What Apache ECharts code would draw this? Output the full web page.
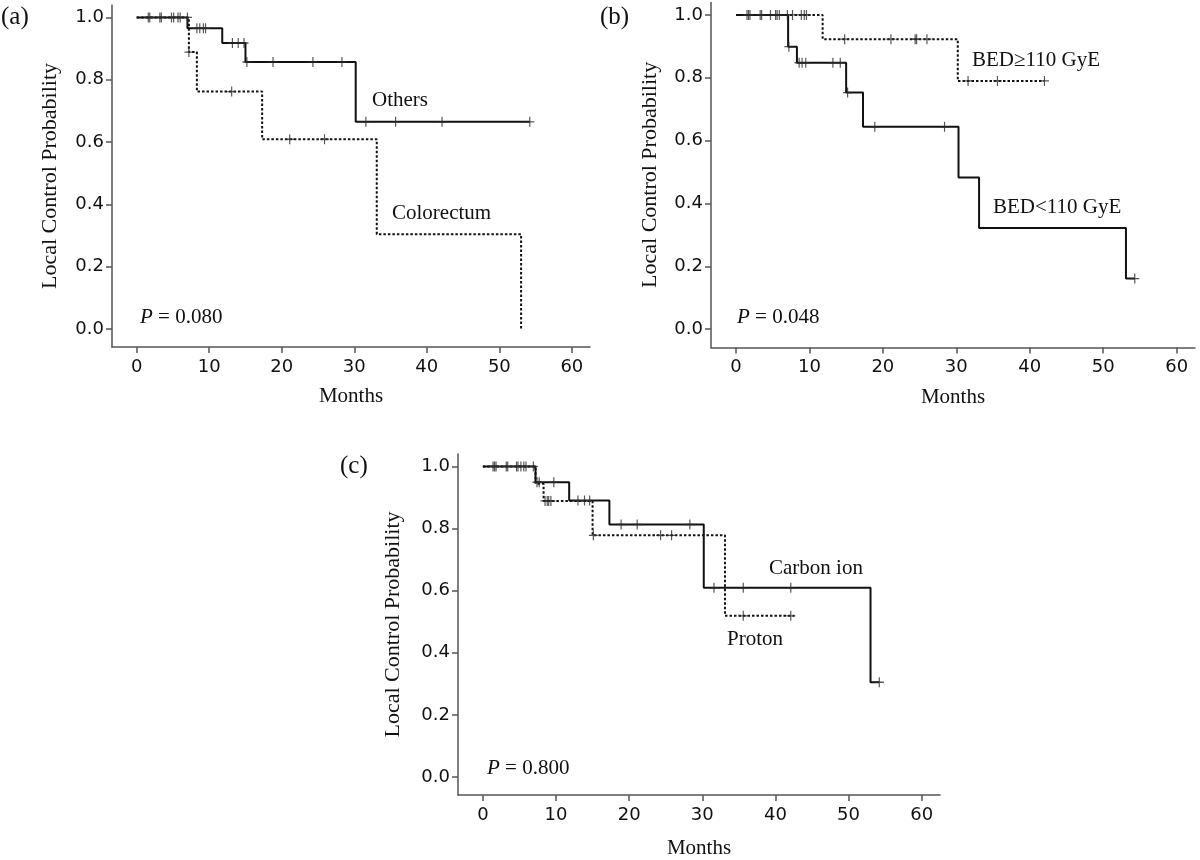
<!DOCTYPE html>
<html>
<head>
<meta charset="utf-8">
<script src="https://cdn.jsdelivr.net/npm/echarts@6/dist/echarts.min.js"></script>
<style>
  html, body { margin: 0; padding: 0; background: #fff; }
  #chart { width: 1200px; height: 860px; }
</style>
</head>
<body>
<div id="chart"></div>
<script>
// ---------- tick labels ----------
const monthTicks = [0, 10, 20, 30, 40, 50, 60];
const probTicks = [0, 0.2, 0.4, 0.6, 0.8, 1.0];

// ---------- Panel (a) ----------
const othersTime = [0, 7.0, 11.8, 15.0, 30.2, 54.2];
const othersSurv = [1.0, 0.965, 0.918, 0.857, 0.665, 0.665];
const othersCensorTime = [1.6, 1.8, 3.2, 3.4, 4.8, 5.1, 5.7, 6.0, 7.0, 8.3, 8.7, 9.2, 9.5, 13.2, 14.0, 14.8, 15.2, 18.8, 24.3, 28.3, 31.6, 35.7, 42.1, 54.2];
const othersCensorSurv = [1, 1, 1, 1, 1, 1, 1, 1, 1, 0.965, 0.965, 0.965, 0.965, 0.918, 0.918, 0.918, 0.857, 0.857, 0.857, 0.857, 0.665, 0.665, 0.665, 0.665];
const coloTime = [0, 7.2, 8.3, 17.3, 33.1, 53.0];
const coloSurv = [1.0, 0.889, 0.762, 0.609, 0.304, 0.0];
const coloCensorTime = [7.2, 13.1, 21.1, 25.9];
const coloCensorSurv = [0.889, 0.762, 0.609, 0.609];

// ---------- Panel (b) ----------
const bedHighTime = [0, 11.8, 30.2, 42.0];
const bedHighSurv = [1.0, 0.923, 0.790, 0.790];
const bedHighCensorTime = [3.3, 5.4, 7.7, 8.9, 9.3, 9.6, 14.8, 21.1, 24.4, 24.6, 26.0, 31.6, 35.6, 42.0];
const bedHighCensorSurv = [1, 1, 1, 1, 1, 1, 0.923, 0.923, 0.923, 0.923, 0.923, 0.790, 0.790, 0.790];
const bedLowTime = [0, 7.1, 8.3, 15.0, 17.3, 30.3, 33.1, 53.1, 54.3];
const bedLowSurv = [1.0, 0.899, 0.848, 0.753, 0.644, 0.483, 0.322, 0.161, 0.161];
const bedLowCensorTime = [1.5, 1.7, 1.9, 3.5, 4.7, 5.6, 5.9, 7.0, 7.2, 8.6, 9.0, 9.5, 13.2, 14.2, 15.2, 18.9, 28.4, 54.3];
const bedLowCensorSurv = [1, 1, 1, 1, 1, 1, 1, 1, 0.899, 0.848, 0.848, 0.848, 0.848, 0.848, 0.753, 0.644, 0.644, 0.161];

// ---------- Panel (c) ----------
const carbonTime = [0, 7.2, 11.8, 17.3, 30.2, 53.0, 54.2];
const carbonSurv = [1.0, 0.949, 0.890, 0.813, 0.609, 0.305, 0.305];
const carbonCensorTime = [1.4, 1.8, 3.2, 4.6, 5.6, 6.9, 7.4, 7.7, 9.7, 13.0, 13.9, 14.6, 18.9, 21.1, 28.3, 31.6, 35.6, 42.1, 54.2];
const carbonCensorSurv = [1, 1, 1, 1, 1, 1, 0.949, 0.949, 0.949, 0.890, 0.890, 0.890, 0.813, 0.813, 0.813, 0.609, 0.609, 0.609, 0.305];
const protonTime = [0, 7.2, 8.3, 15.0, 33.1, 42.6];
const protonSurv = [1.0, 0.944, 0.889, 0.778, 0.519, 0.519];
const protonCensorTime = [1.6, 3.4, 4.8, 5.2, 5.9, 8.5, 8.8, 9.0, 9.3, 15.1, 24.3, 25.8, 35.6, 42.1];
const protonCensorSurv = [1, 1, 1, 1, 1, 0.889, 0.889, 0.889, 0.889, 0.778, 0.778, 0.778, 0.519, 0.519];

// ---------- build ----------
const SERIF = '"Liberation Serif", "Times New Roman", serif';
const SANS = '"DejaVu Sans", Verdana, sans-serif';
const pairs = (ts, ss) => ts.map((t, i) => [t, ss[i]]);
const plusPath = 'path://M4.35,0H5.65V10H4.35Z M0,4.35H10V5.65H0Z';

function stepLine(idx, ts, ss, dotted) {
  return {
    type: 'line', xAxisIndex: idx, yAxisIndex: idx, step: 'end',
    data: pairs(ts, ss), symbol: 'none', silent: true, z: 3,
    lineStyle: { color: '#111', width: 2, type: dotted ? [2.5, 2] : 'solid', cap: 'butt' }
  };
}
function censors(idx, ts, ss) {
  return {
    type: 'scatter', xAxisIndex: idx, yAxisIndex: idx,
    data: pairs(ts, ss), symbol: plusPath, symbolSize: [9, 10], silent: true, z: 4,
    itemStyle: { color: '#2a2a2a' }
  };
}

const grids = [
  { left: 112, top: 5, width: 478, height: 342 },
  { left: 711, top: 2.4, width: 484, height: 345 },
  { left: 458, top: 454, width: 482, height: 343 }
];
const nameGapsY = [51, 50, 54];
const nameGapsX = [39, 40, 43];

const axisLineStyle = { color: '#555', width: 1.5 };
const xAxes = grids.map((g, i) => ({
  type: 'value', gridIndex: i, min: -3.4, max: 62.5,
  axisLine: { onZero: false, lineStyle: axisLineStyle },
  axisTick: { customValues: monthTicks, length: 6, lineStyle: axisLineStyle },
  axisLabel: { customValues: monthTicks, margin: 11, fontFamily: SANS, fontSize: 18, color: '#111' },
  splitLine: { show: false },
  name: 'Months', nameLocation: 'middle', nameGap: nameGapsX[i],
  nameTextStyle: { fontFamily: SERIF, fontSize: 21, color: '#111' }
}));
const yAxes = grids.map((g, i) => ({
  type: 'value', gridIndex: i, min: -0.058, max: 1.04,
  axisLine: { onZero: false, lineStyle: axisLineStyle },
  axisTick: { customValues: probTicks, length: 6, lineStyle: axisLineStyle },
  axisLabel: { customValues: probTicks, margin: 8, fontFamily: SANS, fontSize: 18, color: '#111',
               formatter: v => v.toFixed(1) },
  splitLine: { show: false },
  name: 'Local Control Probability', nameLocation: 'middle', nameRotate: 90, nameGap: nameGapsY[i],
  nameTextStyle: { fontFamily: SERIF, fontSize: 22, color: '#111' }
}));

function txt(text, x, y, size) {
  return {
    type: 'text', x: x, y: y, silent: true,
    style: { text: text, font: size + 'px ' + SERIF, fill: '#111', align: 'left', verticalAlign: 'middle' }
  };
}
function ptxt(text, x, y) {
  return {
    type: 'text', x: x, y: y, silent: true,
    style: {
      text: '{i|P} = ' + text, font: '21px ' + SERIF, fill: '#111', align: 'left', verticalAlign: 'middle',
      rich: { i: { fontStyle: 'italic', fontFamily: SERIF, fontSize: 21, fill: '#111' } }
    }
  };
}

const option = {
  animation: false,
  backgroundColor: '#fff',
  grid: grids,
  xAxis: xAxes,
  yAxis: yAxes,
  series: [
    stepLine(0, othersTime, othersSurv, false),
    stepLine(0, coloTime, coloSurv, true),
    censors(0, othersCensorTime, othersCensorSurv),
    censors(0, coloCensorTime, coloCensorSurv),
    stepLine(1, bedHighTime, bedHighSurv, true),
    stepLine(1, bedLowTime, bedLowSurv, false),
    censors(1, bedHighCensorTime, bedHighCensorSurv),
    censors(1, bedLowCensorTime, bedLowCensorSurv),
    stepLine(2, carbonTime, carbonSurv, false),
    stepLine(2, protonTime, protonSurv, true),
    censors(2, carbonCensorTime, carbonCensorSurv),
    censors(2, protonCensorTime, protonCensorSurv)
  ],
  graphic: [
    txt('(a)', 1, 17, 25),
    txt('(b)', 600, 17, 25),
    txt('(c)', 340, 466, 25),
    txt('Others', 372, 100, 21),
    txt('Colorectum', 392, 213, 21),
    txt('BED\u2265110 GyE', 972, 60, 21),
    txt('BED<110 GyE', 993, 207, 21),
    txt('Carbon ion', 769, 568, 21),
    txt('Proton', 727, 639, 21),
    ptxt('0.080', 140, 317),
    ptxt('0.048', 737, 317),
    ptxt('0.800', 487, 768)
  ]
};

const chart = echarts.init(document.getElementById('chart'), null, { renderer: 'canvas' });
chart.setOption(option);
</script>
</body>
</html>
